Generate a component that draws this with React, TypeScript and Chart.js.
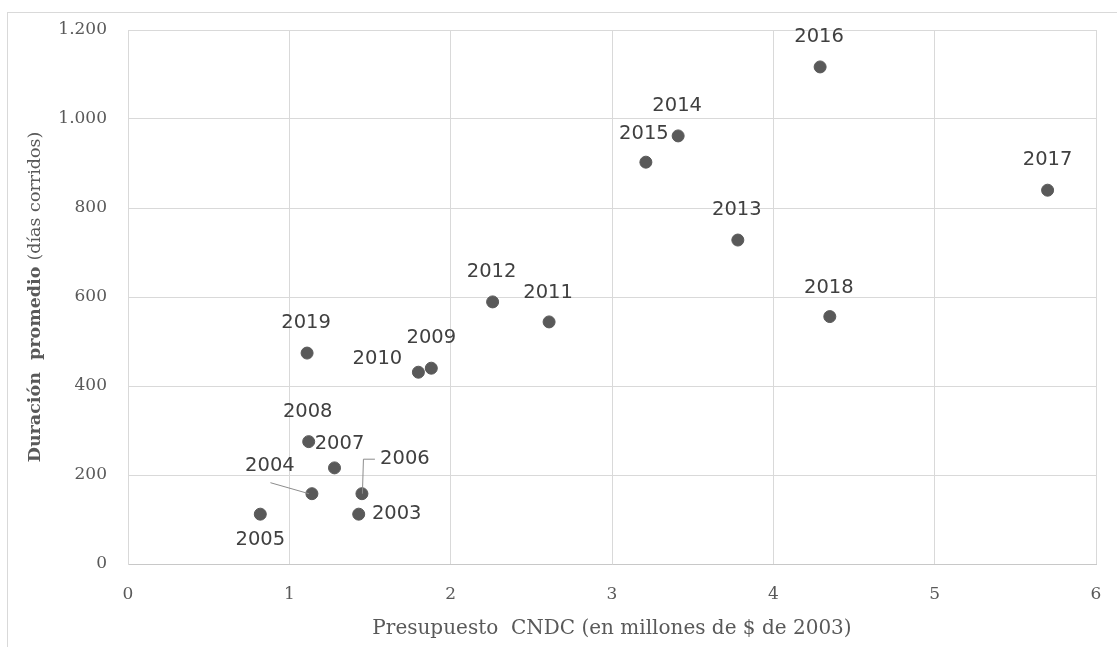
import React, { useEffect, useRef } from "react";
import { Chart, registerables } from "chart.js";

Chart.register(...registerables);

const years = ["2003","2004","2005","2006","2007","2008","2009","2010","2011","2012","2013","2014","2015","2016","2017","2018","2019"];
const budget = [1.43, 1.14, 0.82, 1.45, 1.28, 1.12, 1.88, 1.80, 2.61, 2.26, 3.78, 3.41, 3.21, 4.29, 5.70, 4.35, 1.11];
const duration = [112, 158, 112, 158, 216, 275, 440, 431, 544, 589, 728, 962, 903, 1117, 840, 556, 474];
const xTicks = [0, 1, 2, 3, 4, 5, 6];
const yTicks = [0, 200, 400, 600, 800, 1000, 1200];

const xTitle = "Presupuesto  CNDC (en millones de $ de 2003)";
const yTitleBold = "Duración  promedio ";
const yTitleRegular = "(días corridos)";

// label offsets in px relative to each point (style only)
const labelOffsets: [number, number][] = [
  [38, 0], [-42, -28], [0, 26], [43, -35], [5, -24], [-1, -30], [0, -30], [-41, -13],
  [-1, -29], [-1, -30], [-1, -30], [-1, -30], [-2, -28], [-1, -30], [0, -30], [-1, -29], [-1, -30],
];

const fmt = (v: number) => {
  const s = String(Math.round(v));
  return s.replace(/\B(?=(\d{3})+(?!\d))/g, ".");
};

const labelPlugin = {
  id: "pointLabels",
  afterDatasetsDraw(chart: any) {
    const ctx = chart.ctx;
    const meta = chart.getDatasetMeta(0);
    ctx.save();
    ctx.font = "19.5px 'DejaVu Sans'";
    ctx.fillStyle = "#404040";
    ctx.textAlign = "center";
    ctx.textBaseline = "middle";
    meta.data.forEach((pt: any, i: number) => {
      const [dx, dy] = labelOffsets[i];
      ctx.fillText(years[i], pt.x + dx, pt.y + dy);
    });
    // leader lines
    ctx.strokeStyle = "#8c8c8c";
    ctx.lineWidth = 1;
    const p2004 = meta.data[1];
    ctx.beginPath();
    ctx.moveTo(p2004.x - 41.5, p2004.y - 11);
    ctx.lineTo(p2004.x - 3, p2004.y);
    ctx.stroke();
    const p2006 = meta.data[3];
    ctx.beginPath();
    ctx.moveTo(p2006.x + 0.5, p2006.y);
    ctx.lineTo(p2006.x + 1.5, p2006.y - 34.5);
    ctx.lineTo(p2006.x + 13, p2006.y - 34.5);
    ctx.stroke();
    ctx.restore();
  },
  afterDraw(chart: any) {
    const ctx = chart.ctx;
    const area = chart.chartArea;
    ctx.save();
    const boldFont = "bold 17.5px 'DejaVu Serif'";
    const regFont = "17.5px 'DejaVu Serif'";
    ctx.font = boldFont;
    const w1 = ctx.measureText(yTitleBold).width;
    ctx.font = regFont;
    const w2 = ctx.measureText(yTitleRegular).width;
    const total = w1 + w2;
    const cy = (area.top + area.bottom) / 2;
    ctx.translate(35, cy);
    ctx.rotate(-Math.PI / 2);
    ctx.textBaseline = "middle";
    ctx.textAlign = "left";
    ctx.fillStyle = "#595959";
    ctx.font = boldFont;
    ctx.fillText(yTitleBold, -total / 2, 0);
    ctx.font = regFont;
    ctx.fillText(yTitleRegular, -total / 2 + w1, 0);
    ctx.restore();
  },
};

export default function App() {
  const ref = useRef<HTMLCanvasElement | null>(null);
  useEffect(() => {
    if (!ref.current) return;
    const chart = new Chart(ref.current, {
      type: "scatter",
      data: {
        datasets: [
          {
            data: budget.map((x, i) => ({ x, y: duration[i] })),
            backgroundColor: "#595959",
            borderColor: "#595959",
            pointRadius: 6,
            pointHoverRadius: 6,
          },
        ],
      },
      options: {
        responsive: false,
        animation: false,
        devicePixelRatio: 1,
        layout: { padding: { top: 30, right: 21, left: 0, bottom: 0 } },
        plugins: { legend: { display: false }, tooltip: { enabled: false } },
        scales: {
          x: {
            type: "linear",
            min: 0,
            max: 6,
            afterBuildTicks: (s: any) => { s.ticks = xTicks.map((v) => ({ value: v })); },
            afterFit: (s: any) => {
              s.height = 83;
              s.paddingLeft = 0; s.paddingRight = 0; s.paddingTop = 0; s.paddingBottom = 0;
            },
            grid: { color: "#d9d9d9", drawTicks: false },
            border: { color: "#c8c8c8" },
            ticks: {
              font: { family: "'DejaVu Serif'", size: 17 },
              color: "#595959",
              padding: 20,
              maxRotation: 0,
            },
            title: {
              display: true,
              text: xTitle,
              font: { family: "'DejaVu Serif'", size: 20 },
              color: "#595959",
              padding: { bottom: 6, top: 0 },
            },
          },
          y: {
            type: "linear",
            min: 0,
            max: 1200,
            afterBuildTicks: (s: any) => { s.ticks = yTicks.map((v) => ({ value: v })); },
            afterFit: (s: any) => {
              s.width = 128;
              s.paddingLeft = 0; s.paddingRight = 0; s.paddingTop = 0; s.paddingBottom = 0;
            },
            grid: { color: "#d9d9d9", drawTicks: false },
            border: { color: "#d9d9d9" },
            ticks: {
              font: { family: "'DejaVu Serif'", size: 17 },
              color: "#595959",
              padding: 21,
              callback: (v: any) => fmt(Number(v)),
            },
          },
        },
      },
      plugins: [labelPlugin],
    });
    return () => chart.destroy();
  }, []);

  return (
    <div style={{ position: "absolute", left: 0, top: 0, width: 1117, height: 647, overflow: "hidden", background: "#ffffff" }}>
      <div style={{ position: "absolute", left: 7, top: 12, width: 1200, height: 800, border: "1px solid #d9d9d9" }} />
      <canvas ref={ref} width={1117} height={647} style={{ position: "absolute", left: 0, top: 0 }} />
    </div>
  );
}
